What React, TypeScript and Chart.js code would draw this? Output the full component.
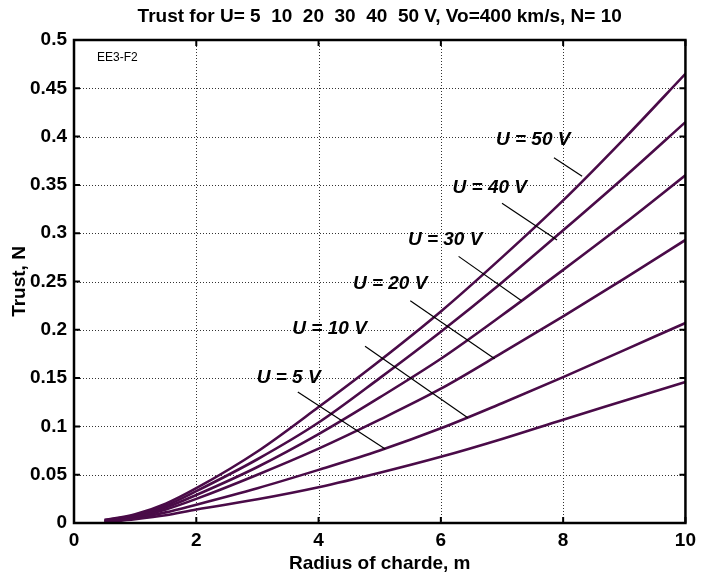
import React, { useEffect, useRef } from 'react';
import { Chart, registerables } from 'chart.js';

Chart.register(...registerables);

// ---- data ----
const radius = [0.5, 1, 1.5, 2, 3, 4, 5, 6, 7, 8, 9, 10];
const thrustU5 = [0.001, 0.004, 0.008, 0.014, 0.0245, 0.037, 0.052, 0.0685, 0.087, 0.107, 0.1265, 0.146];
const thrustU10 = [0.0015, 0.005, 0.011, 0.019, 0.036, 0.055, 0.075, 0.098, 0.124, 0.151, 0.179, 0.207];
const thrustU20 = [0.002, 0.006, 0.014, 0.025, 0.05, 0.077, 0.107, 0.139, 0.176, 0.214, 0.253, 0.293];
const thrustU30 = [0.002, 0.007, 0.016, 0.029, 0.058, 0.092, 0.13, 0.17, 0.215, 0.262, 0.31, 0.36];
const thrustU40 = [0.003, 0.008, 0.018, 0.033, 0.066, 0.104, 0.15, 0.198, 0.249, 0.303, 0.358, 0.415];
const thrustU50 = [0.003, 0.009, 0.02, 0.036, 0.074, 0.12, 0.168, 0.219, 0.275, 0.334, 0.398, 0.465];
const seriesValues = [thrustU5, thrustU10, thrustU20, thrustU30, thrustU40, thrustU50];
const voltages = [5, 10, 20, 30, 40, 50];

const xTicks = [0, 2, 4, 6, 8, 10];
const yTicks = [0, 0.05, 0.1, 0.15, 0.2, 0.25, 0.3, 0.35, 0.4, 0.45, 0.5];
const yTickLabels = ['0', '0.05', '0.1', '0.15', '0.2', '0.25', '0.3', '0.35', '0.4', '0.45', '0.5'];

const titleText = 'Trust for U= 5  10  20  30  40  50 V, Vo=400 km/s, N= 10';
const xTitle = 'Radius of charde, m';
const yTitle = 'Trust, N';
const tagText = 'EE3-F2';

// annotation labels (data coordinates)
const labelTexts = voltages.map((v) => `U = ${v} V`);
const labelX = [3.51, 4.18, 5.17, 6.07, 6.8, 7.51];
const labelY = [0.15, 0.201, 0.248, 0.293, 0.347, 0.3965];
const leaderX0 = [3.66, 4.76, 5.5, 6.29, 7.0, 7.85];
const leaderY0 = [0.1356, 0.183, 0.23, 0.276, 0.331, 0.378];
const leaderX1 = [5.09, 6.44, 6.88, 7.32, 7.9, 8.31];
const leaderY1 = [0.0766, 0.109, 0.17, 0.23, 0.293, 0.359];

const FONT = '"Liberation Sans", Arial, Helvetica, sans-serif';
const CURVE = '#4a0b48';

const framePlugin = {
  id: 'matlabFrame',
  beforeDatasetsDraw(chart: any) {
    const { ctx, chartArea: a, scales } = chart;
    ctx.save();
    ctx.strokeStyle = '#333';
    ctx.lineWidth = 1;
    ctx.setLineDash([1, 2]);
    xTicks.forEach((v) => {
      if (v === xTicks[0] || v === xTicks[xTicks.length - 1]) return;
      const px = Math.round(scales.x.getPixelForValue(v)) + 0.5;
      ctx.beginPath();
      ctx.moveTo(px, a.top);
      ctx.lineTo(px, a.bottom);
      ctx.stroke();
    });
    yTicks.forEach((v) => {
      if (v === yTicks[0] || v === yTicks[yTicks.length - 1]) return;
      const py = Math.round(scales.y.getPixelForValue(v)) + 0.5;
      ctx.beginPath();
      ctx.moveTo(a.left, py);
      ctx.lineTo(a.right, py);
      ctx.stroke();
    });
    ctx.restore();
  },
  afterDatasetsDraw(chart: any) {
    const { ctx, chartArea: a, scales } = chart;
    ctx.save();
    // leader lines
    ctx.strokeStyle = '#000';
    ctx.lineWidth = 1.2;
    ctx.setLineDash([]);
    for (let i = 0; i < labelTexts.length; i++) {
      ctx.beginPath();
      ctx.moveTo(scales.x.getPixelForValue(leaderX0[i]), scales.y.getPixelForValue(leaderY0[i]));
      ctx.lineTo(scales.x.getPixelForValue(leaderX1[i]), scales.y.getPixelForValue(leaderY1[i]));
      ctx.stroke();
    }
    // labels
    ctx.fillStyle = '#000';
    ctx.font = `italic bold 19px ${FONT}`;
    ctx.textAlign = 'center';
    ctx.textBaseline = 'middle';
    for (let i = 0; i < labelTexts.length; i++) {
      ctx.fillText(labelTexts[i], scales.x.getPixelForValue(labelX[i]), scales.y.getPixelForValue(labelY[i]));
    }
    // frame
    ctx.lineWidth = 2.5;
    ctx.strokeRect(a.left, a.top, a.right - a.left, a.bottom - a.top);
    // inner ticks
    ctx.lineWidth = 2;
    const tl = 6;
    xTicks.forEach((v) => {
      const px = scales.x.getPixelForValue(v);
      ctx.beginPath();
      ctx.moveTo(px, a.bottom);
      ctx.lineTo(px, a.bottom - tl);
      ctx.moveTo(px, a.top);
      ctx.lineTo(px, a.top + tl);
      ctx.stroke();
    });
    yTicks.forEach((v) => {
      const py = scales.y.getPixelForValue(v);
      ctx.beginPath();
      ctx.moveTo(a.left, py);
      ctx.lineTo(a.left + tl, py);
      ctx.moveTo(a.right, py);
      ctx.lineTo(a.right - tl, py);
      ctx.stroke();
    });
    // tag
    ctx.font = `12px ${FONT}`;
    ctx.textAlign = 'left';
    ctx.textBaseline = 'middle';
    ctx.fillText(tagText, a.left + 23, a.top + 18);
    // title
    ctx.font = `bold 19px ${FONT}`;
    ctx.textAlign = 'center';
    ctx.fillText(titleText, (a.left + a.right) / 2, 17);
    ctx.restore();
  },
};

export default function App() {
  const ref = useRef<HTMLCanvasElement | null>(null);
  useEffect(() => {
    if (!ref.current) return;
    const chart = new Chart(ref.current, {
      type: 'line',
      data: {
        datasets: seriesValues.map((vals, i) => ({
          label: labelTexts[i],
          data: radius.map((r, j) => ({ x: r, y: vals[j] })),
          borderColor: CURVE,
          backgroundColor: CURVE,
          borderWidth: 2.6,
          pointRadius: 0,
          cubicInterpolationMode: 'monotone' as const,
          fill: false,
        })),
      },
      options: {
        animation: false,
        responsive: false,
        events: [],
        layout: { padding: { top: 40, right: 13, left: 0, bottom: 0 } },
        plugins: {
          legend: { display: false },
          title: { display: false },
          tooltip: { enabled: false },
        },
        scales: {
          x: {
            type: 'linear',
            min: 0,
            max: 10,
            afterBuildTicks: (s: any) => {
              s.ticks = xTicks.map((v) => ({ value: v }));
            },
            afterFit: (s: any) => {
              s.height = 51;
            },
            ticks: {
              color: '#000',
              font: { family: FONT, size: 19, weight: 'bold' },
              padding: 6,
              maxRotation: 0,
              autoSkip: false,
            },
            grid: { display: false, drawTicks: false },
            border: { display: false },
            title: {
              display: true,
              text: xTitle,
              color: '#000',
              font: { family: FONT, size: 19, weight: 'bold' },
              padding: { top: 0, bottom: -1 },
            },
          },
          y: {
            type: 'linear',
            min: 0,
            max: 0.5,
            afterBuildTicks: (s: any) => {
              s.ticks = yTicks.map((v) => ({ value: v }));
            },
            afterFit: (s: any) => {
              s.width = 74;
            },
            ticks: {
              color: '#000',
              font: { family: FONT, size: 19, weight: 'bold' },
              padding: 7,
              autoSkip: false,
              callback: (_v: any, i: number) => yTickLabels[i],
            },
            grid: { display: false, drawTicks: false },
            border: { display: false },
            title: {
              display: true,
              text: yTitle,
              color: '#000',
              font: { family: FONT, size: 19, weight: 'bold' },
              padding: { top: 8, bottom: 0 },
            },
          },
        },
      },
      plugins: [framePlugin],
    });
    return () => chart.destroy();
  }, []);
  return (
    <div style={{ position: 'absolute', left: 0, top: 0, width: 702, height: 574, background: '#fff' }}>
      <canvas ref={ref} width={702} height={574} style={{ display: 'block', width: 702, height: 574 }} />
    </div>
  );
}
